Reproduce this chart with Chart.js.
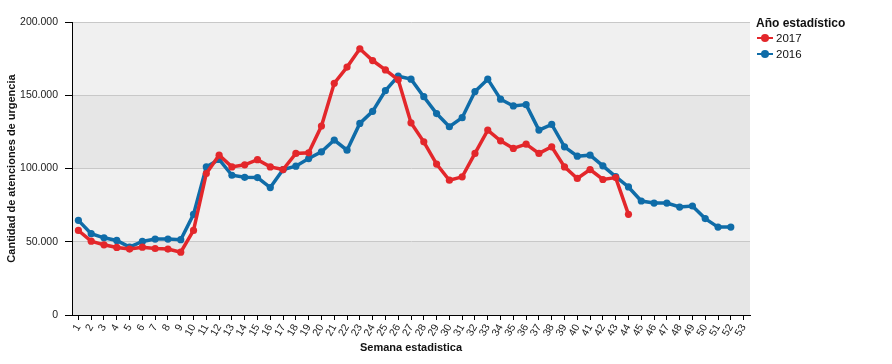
<!DOCTYPE html>
<html>
<head>
<meta charset="utf-8">
<script src="https://cdn.jsdelivr.net/npm/chart.js@4"></script>
<style>
  body { margin: 0; background: #fff; }
  #wrap { position: relative; width: 892px; height: 364px; }
  #legend { position: absolute; left: 756px; top: 16px; font-family: 'Liberation Sans', Arial, sans-serif; color: #111; }
  #legend .title { font-weight: bold; font-size: 12px; margin-bottom: 0px; }
  #legend .item { display: flex; align-items: center; font-size: 11.5px; height: 16px; }
  #legend svg { margin-right: 2px; }
</style>
</head>
<body>
<div id="wrap">
  <canvas id="chart" width="892" height="364"></canvas>
  <div id="legend"></div>
</div>
<script>
  // weeks 1..53
  const weeks = ['1','2','3','4','5','6','7','8','9','10','11','12','13','14','15','16','17','18','19','20',
    '21','22','23','24','25','26','27','28','29','30','31','32','33','34','35','36','37','38','39','40',
    '41','42','43','44','45','46','47','48','49','50','51','52','53'];

  const y2017 = [57700, 50400, 47900, 46100, 45000, 46300, 45400, 45000, 42900, 57700,
    96600, 109100, 101100, 102500, 106000, 101100, 99300, 110300, 110700, 129000,
    158200, 169200, 181700, 173700, 167300, 160500, 131200, 118200, 103000, 92000,
    94300, 110300, 126200, 118900, 113700, 116600, 110300, 114800, 101100, 93200,
    99300, 92500, 93800, 68700];

  const y2016 = [64600, 55500, 52700, 50900, 46300, 50200, 51800, 51800, 51400, 68700,
    101100, 106200, 95400, 94000, 93800, 87000, 99300, 101600, 106800, 111400,
    119400, 112500, 130800, 139000, 153200, 163000, 161000, 149000, 137500, 128500,
    134700, 152500, 161000, 147300, 142700, 143600, 126200, 130100, 114800, 108400,
    109100, 101800, 94500, 87400, 77800, 76400, 76400, 73700, 74400, 65800,
    60000, 60000];

  const yTicks = [0, 50000, 100000, 150000, 200000];

  const RED = '#E3272B', BLUE = '#0F6CA8';
  const FONT = "'Liberation Sans', Arial, sans-serif";

  const fmt = v => String(v).replace(/\B(?=(\d{3})+(?!\d))/g, '.');

  // alternating grey bands behind the plot
  const bands = {
    id: 'bands',
    beforeDraw(chart) {
      const { ctx, chartArea: a, scales: { y } } = chart;
      ctx.save();
      for (let i = 0; i < yTicks.length - 1; i++) {
        const top = y.getPixelForValue(yTicks[i + 1]);
        const bot = y.getPixelForValue(yTicks[i]);
        ctx.fillStyle = i % 2 === 0 ? '#E6E6E6' : '#F0F0F0';
        ctx.fillRect(a.left, top, a.right - a.left, bot - top);
      }
      ctx.restore();
    }
  };

  const ds = (label, data, color) => ({
    label, data, borderColor: color, backgroundColor: color,
    borderWidth: 3.5, pointRadius: 3.6, pointBorderWidth: 0, pointHoverRadius: 4,
    tension: 0, fill: false,
  });

  new Chart(document.getElementById('chart'), {
    type: 'line',
    data: { labels: weeks, datasets: [ds('2017', y2017, RED), ds('2016', y2016, BLUE)] },
    options: {
      responsive: false, animation: false,
      layout: { padding: { top: 22, right: 142, left: 0, bottom: 0 } },
      plugins: { legend: { display: false }, tooltip: { enabled: false } },
      scales: {
        x: {
          offset: true,
          grid: { drawOnChartArea: false, drawTicks: true, tickLength: 5, tickColor: '#000', offset: false },
          border: { color: '#000', width: 1 },
          ticks: { color: '#222', font: { family: FONT, size: 10.5 }, minRotation: 60, maxRotation: 60, autoSkip: false, padding: 2 },
          title: { display: true, text: 'Semana estadistica', color: '#111', font: { family: FONT, size: 11, weight: 'bold' }, padding: { top: 0, bottom: 9 } },
          afterFit: s => { s.height = 49; },
        },
        y: {
          min: 0, max: 200000,
          afterBuildTicks: s => { s.ticks = yTicks.map(v => ({ value: v })); },
          grid: { color: '#C8C8C8', tickColor: '#000', tickLength: 7, lineWidth: 1 },
          border: { color: '#000', width: 1 },
          ticks: { color: '#222', font: { family: FONT, size: 10.5 }, padding: 7, callback: v => fmt(v) },
          title: { display: true, text: 'Cantidad de atenciones de urgencia', color: '#111', font: { family: FONT, size: 11, weight: 'bold' }, padding: { top: 5, bottom: 0 } },
          afterFit: s => { s.width = 72; },
        },
      },
    },
    plugins: [bands],
  });

  // legend
  const legend = document.getElementById('legend');
  legend.innerHTML = '<div class="title">Año estadístico</div>' +
    [['2017', RED], ['2016', BLUE]].map(([t, c]) =>
      `<div class="item"><svg width="18" height="10"><line x1="1" y1="5" x2="17" y2="5" stroke="${c}" stroke-width="2"/><circle cx="9" cy="5" r="4" fill="${c}"/></svg>${t}</div>`
    ).join('');
</script>
</body>
</html>
